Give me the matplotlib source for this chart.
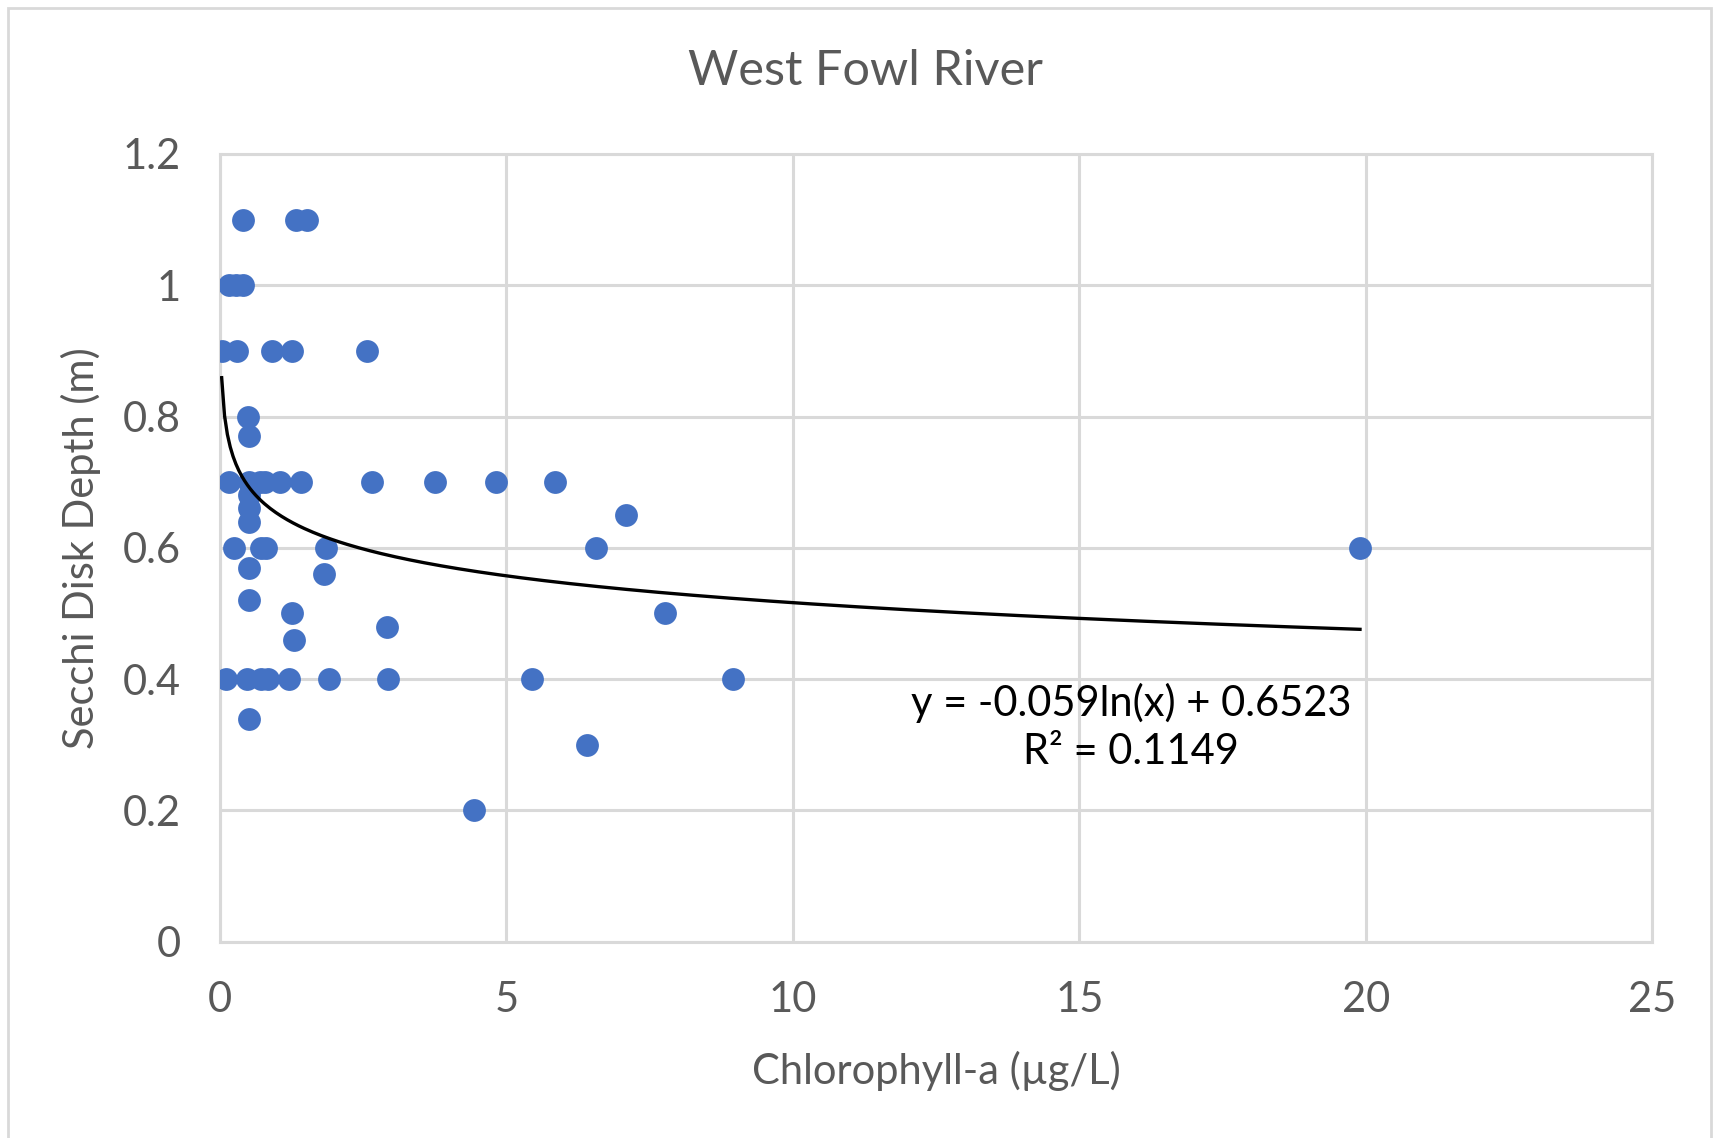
import numpy as np
import matplotlib.pyplot as plt
from matplotlib.patches import Rectangle

plt.rcParams['font.family'] = ['Lato', 'DejaVu Sans']

# Chlorophyll-a (ug/L) and Secchi disk depth (m) samples
chl = [0.41, 1.33, 1.52,
       0.15, 0.28, 0.40,
       0.03, 0.29, 0.91, 1.26, 2.56,
       0.49, 0.50,
       0.16, 0.50, 0.70, 0.78, 1.05, 1.42, 2.65, 3.76, 4.81, 5.85,
       0.50, 0.50, 0.50, 7.08,
       0.25, 0.72, 0.80, 1.85, 6.56, 19.9,
       0.50, 1.81, 0.50, 1.26, 7.77, 2.91, 1.29,
       0.11, 0.48, 0.71, 0.84, 1.20, 1.90, 2.93, 5.44, 8.95,
       0.50, 6.41, 4.44]
secchi = [1.1, 1.1, 1.1,
          1.0, 1.0, 1.0,
          0.9, 0.9, 0.9, 0.9, 0.9,
          0.8, 0.77,
          0.7, 0.7, 0.7, 0.7, 0.7, 0.7, 0.7, 0.7, 0.7, 0.7,
          0.68, 0.66, 0.64, 0.65,
          0.6, 0.6, 0.6, 0.6, 0.6, 0.6,
          0.57, 0.56, 0.52, 0.5, 0.5, 0.48, 0.46,
          0.4, 0.4, 0.4, 0.4, 0.4, 0.4, 0.4, 0.4, 0.4,
          0.34, 0.3, 0.2]

# logarithmic trendline coefficients
slope = -0.059
intercept = 0.6523
r2 = 0.1149

fig = plt.figure(figsize=(17.13, 11.38), dpi=100)
ax = fig.add_axes([0.1284, 0.1725, 0.8361, 0.6922])

grid_col = '#d9d9d9'
text_col = '#595959'

ax.scatter(chl, secchi, s=270, color='#4472c4', zorder=3, linewidths=0)

xt = np.linspace(min(chl), max(chl), 400)
ax.plot(xt, slope * np.log(xt) + intercept, color='black', lw=2.4, zorder=4)

ax.set_xlim(0, 25)
ax.set_ylim(0, 1.2)
ax.set_xticks([0, 5, 10, 15, 20, 25])
ax.set_yticks([0, 0.2, 0.4, 0.6, 0.8, 1.0, 1.2])
ax.set_yticklabels(['0', '0.2', '0.4', '0.6', '0.8', '1', '1.2'])
ax.grid(True, color=grid_col, lw=2.2)
ax.set_axisbelow(True)
for sp in ax.spines.values():
    sp.set_color(grid_col)
    sp.set_linewidth(2.2)
ax.tick_params(length=0, labelsize=30, labelcolor=text_col)
ax.tick_params(axis='x', pad=28)
ax.tick_params(axis='y', pad=28)

ax.set_xlabel('Chlorophyll-a (µg/L)', fontsize=30, color=text_col, labelpad=23)
ax.set_ylabel('Secchi Disk Depth (m)', fontsize=30, color=text_col, labelpad=16)
fig.text(0.5055, 0.9375, 'West Fowl River', ha='center', va='center',
         fontsize=35, color=text_col)

ax.text(15.9, 0.327, f'y = {slope}ln(x) + {intercept}\nR² = {r2}',
        ha='center', va='center', fontsize=30, color='black',
        linespacing=1.3)

# outer chart border
fig.patches.append(Rectangle((8 / 1713, -0.01), 1703 / 1713, 1.0 - 8 / 1138 + 0.01,
                             transform=fig.transFigure, fill=False,
                             edgecolor=grid_col, lw=2))

fig.savefig('out.png', dpi=100)
